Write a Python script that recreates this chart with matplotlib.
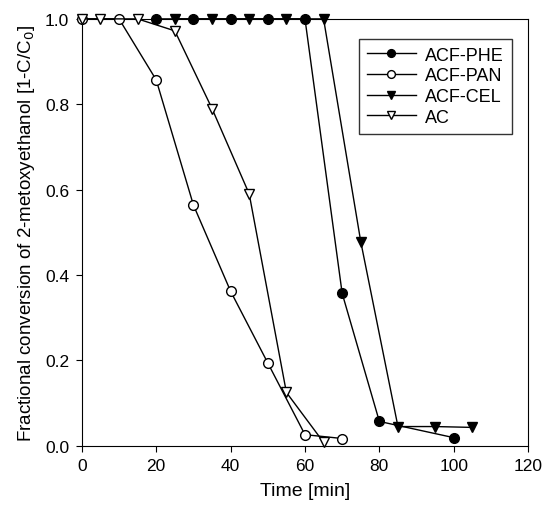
import matplotlib
matplotlib.use("Agg")
import matplotlib.pyplot as plt

plt.rcParams["font.family"] = ["Liberation Sans", "DejaVu Sans"]

# data
phe_t = [20, 30, 40, 50, 60, 70, 80, 100]
phe_y = [1.0, 1.0, 1.0, 1.0, 1.0, 0.357, 0.057, 0.019]

pan_t = [0, 10, 20, 30, 40, 50, 60, 70]
pan_y = [1.0, 1.0, 0.857, 0.564, 0.362, 0.194, 0.026, 0.017]

cel_t = [25, 35, 45, 55, 65, 75, 85, 95, 105]
cel_y = [1.0, 1.0, 1.0, 1.0, 1.0, 0.478, 0.045, 0.045, 0.043]

ac_t = [0, 5, 15, 25, 35, 45, 55, 65]
ac_y = [1.0, 1.0, 1.0, 0.972, 0.79, 0.59, 0.125, 0.008]

x_ticks = [0, 20, 40, 60, 80, 100, 120]
y_ticks = [0.0, 0.2, 0.4, 0.6, 0.8, 1.0]

fig = plt.figure(figsize=(5.53, 5.10), dpi=100)
ax = fig.add_axes([0.148, 0.124, 0.807, 0.837])

ms = 7
kw = dict(color="black", ms=ms, lw=1, clip_on=False, zorder=3)
ax.plot(phe_t, phe_y, "-o", mfc="black", label="ACF-PHE", **kw)
ax.plot(pan_t, pan_y, "-o", mfc="white", label="ACF-PAN", **kw)
ax.plot(cel_t, cel_y, "-v", mfc="black", label="ACF-CEL", **kw)
ax.plot(ac_t, ac_y, "-v", mfc="white", label="AC", **kw)

ax.set_xlim(0, 120)
ax.set_ylim(0, 1.0)
ax.set_xticks(x_ticks)
ax.set_yticks(y_ticks)
ax.set_yticklabels([f"{v:.1f}" for v in y_ticks])
ax.tick_params(direction="out", length=4, labelsize=12.5, pad=5)
ax.set_xlabel("Time [min]", fontsize=14, labelpad=6)
ax.set_ylabel("Fractional conversion of 2-metoxyethanol [1-C/C$_0$]", fontsize=13.5, labelpad=6)

leg = ax.legend(loc="upper right", bbox_to_anchor=(0.983, 0.975), fontsize=13,
                frameon=True, fancybox=False, edgecolor="black", handlelength=2.7,
                borderpad=0.45, labelspacing=0.2, handletextpad=0.5, markerscale=0.8)
leg.get_frame().set_linewidth(1.0)

fig.savefig("out.png", dpi=100)
